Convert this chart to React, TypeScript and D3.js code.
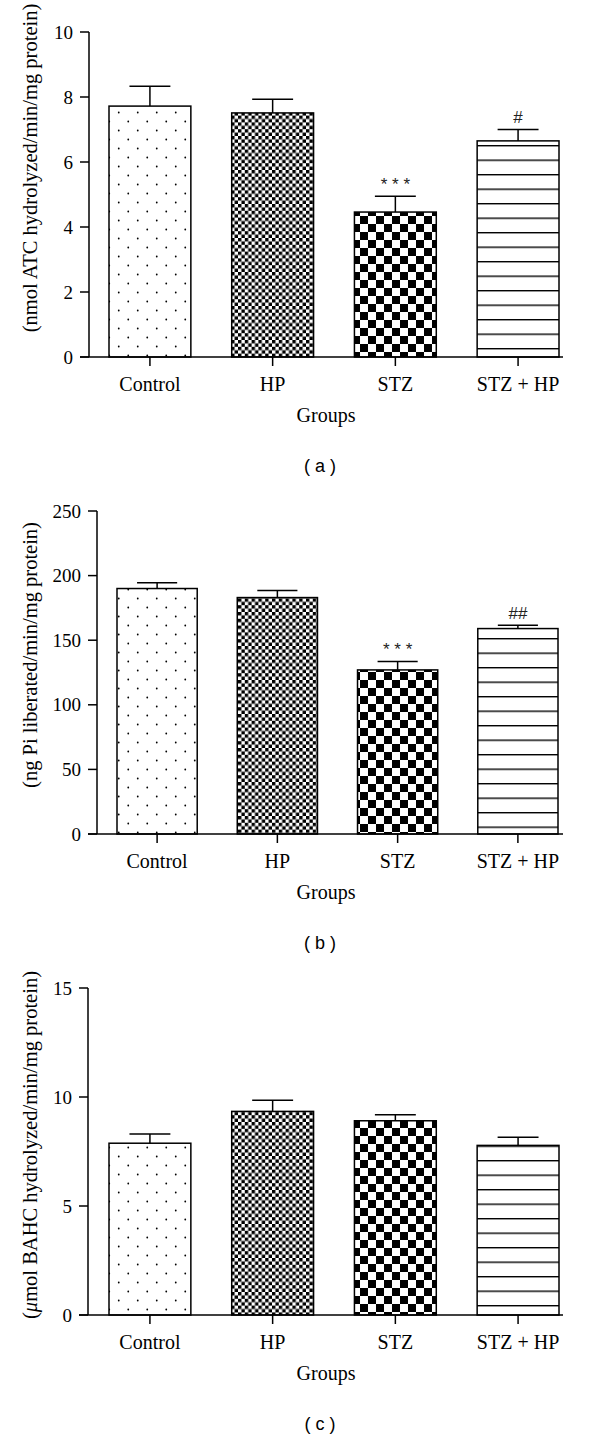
import React from "react";
import * as d3 from "d3";

const groups = ["Control", "HP", "STZ", "STZ + HP"];

const ticksA = [0, 2, 4, 6, 8, 10];
const meansA = [7.72, 7.51, 4.46, 6.65];
const semA = [0.61, 0.42, 0.49, 0.35];
const marksA = ["", "", "* * *", "#"];

const ticksB = [0, 50, 100, 150, 200, 250];
const meansB = [190, 183, 127, 159];
const semB = [4.4, 5.5, 6.6, 2.5];
const marksB = ["", "", "* * *", "##"];

const ticksC = [0, 5, 10, 15];
const meansC = [7.88, 9.34, 8.91, 7.78];
const semC = [0.42, 0.51, 0.28, 0.37];
const marksC = ["", "", "", ""];

const fills = ["url(#pDots)", "url(#pFine)", "url(#pCoarse)", "url(#pLines)"];
const SERIF = "'Liberation Serif', 'Times New Roman', serif";
const SANS = "'Liberation Sans', Arial, sans-serif";

type PanelProps = {
  ticks: number[];
  means: number[];
  sem: number[];
  marks: string[];
  y0: number;
  y1: number;
  axisX: number;
  barL: number;
  barR: number;
  label: React.ReactNode;
  labelCenter: number;
  tag: string;
};

function Panel(p: PanelProps) {
  const max = p.ticks[p.ticks.length - 1];
  const y = d3.scaleLinear().domain([0, max]).range([p.y0, p.y1]);
  const x = d3
    .scaleBand<string>()
    .domain(groups)
    .range([p.barL, p.barR])
    .paddingInner(0.333)
    .paddingOuter(0);
  const bw = x.bandwidth();
  const xEnd = 563;
  return (
    <g>
      {groups.map((g, i) => {
        const x0 = x(g) as number;
        const top = y(p.means[i]);
        const et = y(p.means[i] + p.sem[i]);
        const cx = x0 + bw / 2;
        return (
          <g key={g}>
            <rect x={x0} y={top} width={bw} height={p.y0 - top} fill={fills[i]} stroke="#000" strokeWidth={1.5} />
            <line x1={cx} x2={cx} y1={top} y2={et} stroke="#000" strokeWidth={1.5} />
            <line x1={cx - bw / 4} x2={cx + bw / 4} y1={et} y2={et} stroke="#000" strokeWidth={1.5} />
            {p.marks[i] && (
              <text x={cx} y={et - 12} textAnchor="middle" dominantBaseline="central" fontFamily={SANS} fontSize={17} fill="#222">
                {p.marks[i]}
              </text>
            )}
            <line x1={cx} x2={cx} y1={p.y0} y2={p.y0 + 9} stroke="#000" strokeWidth={1.5} />
            <text x={cx} y={p.y0 + 34} textAnchor="middle" fontFamily={SERIF} fontSize={20} fill="#000">
              {g}
            </text>
          </g>
        );
      })}
      <line x1={p.axisX} x2={p.axisX} y1={p.y1} y2={p.y0} stroke="#000" strokeWidth={1.5} />
      <line x1={p.axisX - 9} x2={xEnd} y1={p.y0} y2={p.y0} stroke="#000" strokeWidth={1.5} />
      {p.ticks.map((t) => (
        <g key={t}>
          <line x1={p.axisX - 9} x2={p.axisX} y1={y(t)} y2={y(t)} stroke="#000" strokeWidth={1.5} />
          <text x={p.axisX - 16} y={y(t)} textAnchor="end" dominantBaseline="central" fontFamily={SERIF} fontSize={19} fill="#000">
            {t}
          </text>
        </g>
      ))}
      <text x={326} y={p.y0 + 65} textAnchor="middle" fontFamily={SERIF} fontSize={20} fill="#000">
        Groups
      </text>
      <text x={320} y={p.y0 + 109} textAnchor="middle" dominantBaseline="central" fontFamily={SANS} fontSize={18} fill="#000">
        {`( ${p.tag} )`}
      </text>
      <text
        transform={`translate(37, ${p.labelCenter}) rotate(-90)`}
        textAnchor="middle"
        fontFamily={SERIF}
        fontSize={20.5}
        fill="#000"
      >
        {p.label}
      </text>
    </g>
  );
}

export default function App() {
  return (
    <svg width={600} height={1441} style={{ position: "absolute", left: 0, top: 0, background: "#fff" }}>
      <defs>
        <pattern id="pDots" patternUnits="userSpaceOnUse" width={19} height={18}>
          <rect width={19} height={18} fill="#fff" />
          <circle cx={4.75} cy={4.5} r={0.9} fill="#000" />
          <circle cx={14.25} cy={13.5} r={0.9} fill="#000" />
        </pattern>
        <pattern id="pFine" patternUnits="userSpaceOnUse" width={6.8} height={6.8}>
          <rect width={6.8} height={6.8} fill="#fff" />
          <rect x={0} y={0} width={3.4} height={3.4} fill="#000" />
          <rect x={3.4} y={3.4} width={3.4} height={3.4} fill="#000" />
        </pattern>
        <pattern id="pCoarse" patternUnits="userSpaceOnUse" width={16} height={16}>
          <rect width={16} height={16} fill="#fff" />
          <rect x={0} y={0} width={8} height={8} fill="#000" />
          <rect x={8} y={8} width={8} height={8} fill="#000" />
        </pattern>
        <pattern id="pLines" patternUnits="userSpaceOnUse" width={10} height={14.5}>
          <rect width={10} height={14.5} fill="#fff" />
          <line x1={0} x2={10} y1={0.7} y2={0.7} stroke="#000" strokeWidth={1.4} />
        </pattern>
      </defs>
      <rect width={600} height={1441} fill="#fff" />
      <Panel
        ticks={ticksA}
        means={meansA}
        sem={semA}
        marks={marksA}
        y0={357}
        y1={32}
        axisX={89}
        barL={109}
        barR={559}
        labelCenter={168}
        tag="a"
        label="(nmol ATC hydrolyzed/min/mg protein)"
      />
      <Panel
        ticks={ticksB}
        means={meansB}
        sem={semB}
        marks={marksB}
        y0={834}
        y1={511}
        axisX={97}
        barL={117}
        barR={558}
        labelCenter={655}
        tag="b"
        label="(ng Pi liberated/min/mg protein)"
      />
      <Panel
        ticks={ticksC}
        means={meansC}
        sem={semC}
        marks={marksC}
        y0={1315}
        y1={988}
        axisX={88}
        barL={109}
        barR={559}
        labelCenter={1145}
        tag="c"
        label={
          <>
            (<tspan fontStyle="italic">μ</tspan>mol BAHC hydrolyzed/min/mg protein)
          </>
        }
      />
    </svg>
  );
}
